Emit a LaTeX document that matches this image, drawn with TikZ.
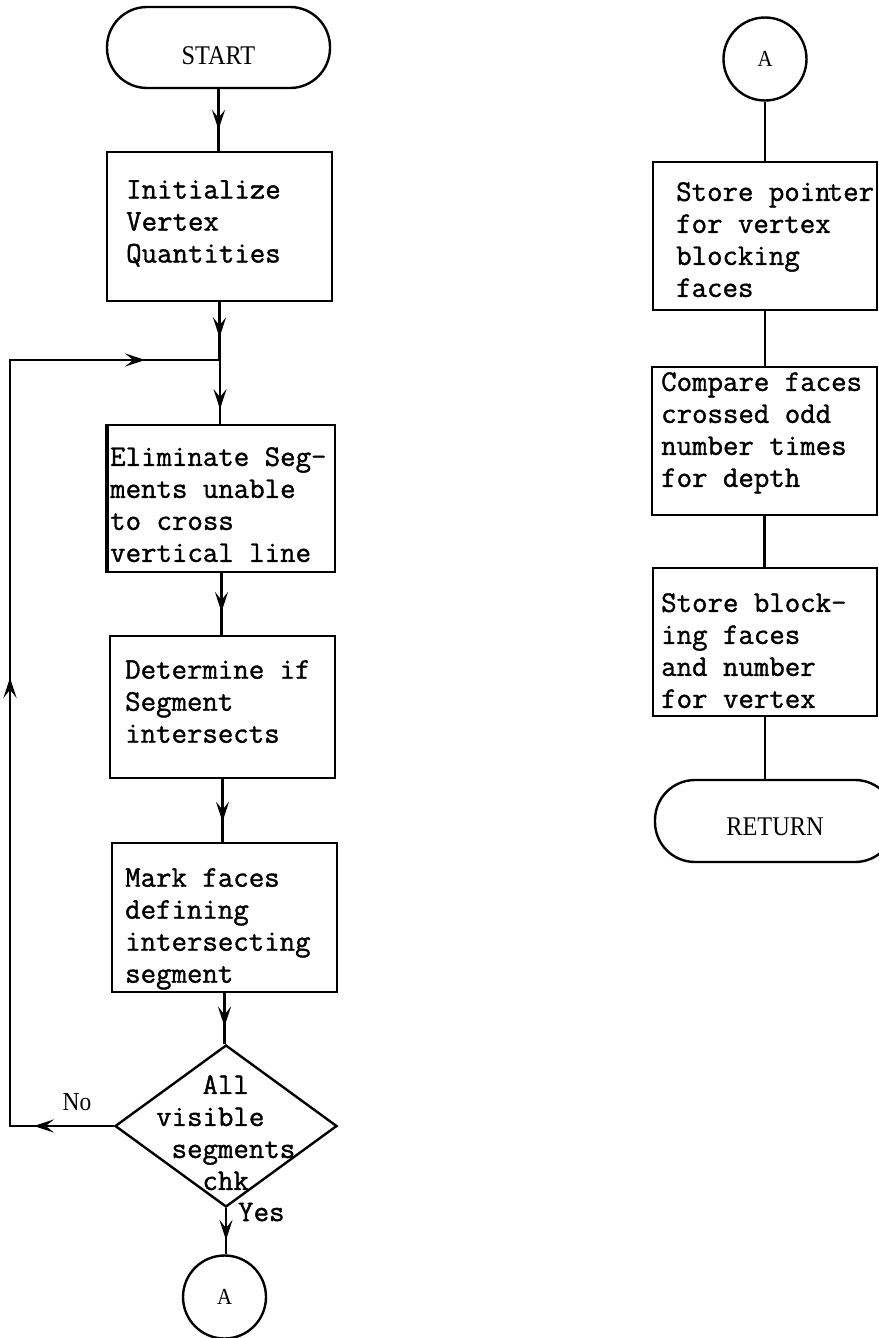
\documentclass[tikz,border=0pt]{standalone}
\usepackage{fontspec}
\newfontfamily\serifface{Liberation Serif}[FakeStretch=0.9]
\newfontfamily\typeface{Latin Modern Mono}[FakeBold=1.2]
\usetikzlibrary{arrows.meta,decorations.markings,shapes.geometric,calc}

\tikzset{
  >={Stealth[length=20pt,width=13pt,inset=8pt]},
  box/.style={draw, line width=2.4pt, rectangle, inner sep=0pt},
  term/.style={draw, line width=2.4pt, rectangle, rounded corners=40pt, inner sep=0pt,
    font=\serifface\fontsize{27}{30}\selectfont},
  conn/.style={draw, circle, line width=2.4pt, inner sep=0pt, minimum size=83pt,
    font=\serifface\fontsize{23}{28}\selectfont},
  decision/.style={draw, diamond, line width=2.4pt, inner sep=0pt},
  txt/.style={anchor=north west, inner sep=0pt, align=left,
    font=\fontsize{30}{32}\selectfont\typeface},
  flow/.style={line width=2.6pt},
  tip at/.style={decoration={markings, mark=at position #1 with {\arrow{>}}},
    postaction=decorate},
}

\begin{document}
\begin{tikzpicture}[x=1pt,y=-1pt]
\useasboundingbox (0,0) rectangle (878,1338);

% ---- main routine ----
\node[term, minimum width=223pt, minimum height=81pt, text height=35pt, text depth=0pt]
  (start) at (218.5,47.5) {START};
\node[box, minimum width=225pt, minimum height=149pt] (b1) at (219.5,226.5) {};
\node[txt] (t1) at (126,180) {Initialize\\Vertex\\Quantities};

\coordinate (j) at (220,360);
\coordinate (lc) at (10,360);

\node[box, minimum width=227pt, minimum height=147pt] (b2) at (221.5,498.5) {};
\draw[line width=4pt] (b2.north west) -- (b2.south west);
\node[txt] (t2) at (110,447) {Eliminate Seg-\\ments unable\\to cross\\vertical line};

\node[box, minimum width=225pt, minimum height=142pt] (b3) at (222.5,707) {};
\node[txt] (t3) at (125,660) {Determine if\\Segment\\intersects};

\node[box, minimum width=225pt, minimum height=149pt] (b4) at (224.5,917.5) {};
\node[txt] (t4) at (125,868) {Mark faces\\defining\\intersecting\\segment};

\node[decision, minimum width=222pt, minimum height=162pt] (dia) at (226,1126) {};
\node[txt] (td) at (156,1075)
  {\phantom{vis}All\\visible\\\phantom{v}segments\\\phantom{vis}chk};

\node[conn] (a1) at (224.5,1297) {A};

\node[font=\serifface\fontsize{26}{30}\selectfont, inner sep=0pt] (no) at (77,1102) {No};
\node[txt, anchor=west] (yes) at (238,1212) {Yes};

% connectors of the main routine
\draw[flow, tip at=0.66] (start.south) -- (start.south |- b1.north);
\draw[flow, tip at=0.61] (b1.south) -- (b1.south |- j);
\draw[flow, tip at=0.77] (j) -- (j |- b2.north);
\draw[flow, tip at=0.63] (b2.south) -- (b2.south |- b3.north);
\draw[flow, tip at=0.68] (b3.south) -- (b3.south |- b4.north);
\draw[flow, tip at=0.66] (b4.south) -- (b4.south |- dia.north);
\draw[flow, tip at=0.69] (dia.south) -- (dia.south |- a1.north);
\draw[flow, decoration={markings,
    mark=at position 80pt with {\arrow{>}},
    mark=at position 552pt with {\arrow{>}},
    mark=at position 1005pt with {\arrow{>}}}, postaction=decorate]
  (dia.west) -| (lc) -- (j);

% ---- continuation ----
\node[conn] (a2) at (765,59) {A};
\node[box, minimum width=224pt, minimum height=148pt] (r1) at (765,236) {};
\node[txt] (s1) at (676,182) {Store poin\kern-3pt ter\\for vertex\\blocking\\faces};
\node[box, minimum width=225pt, minimum height=148pt] (r2) at (764.5,441) {};
\node[txt] (s2) at (661,372) {Compare faces\\crossed odd\\number times\\for depth};
\node[box, minimum width=224pt, minimum height=148pt] (r3) at (765,642) {};
\node[txt] (s3) at (661,593) {Store block-\\ing faces\\and number\\for vertex};
\node[term, minimum width=240pt, minimum height=82pt, text height=28pt, text depth=0pt]
  (ret) at (775,821) {RETURN};

\draw[flow] (a2.south) -- (a2.south |- r1.north);
\draw[flow] (r1.south) -- (r1.south |- r2.north);
\draw[flow] (r2.south) -- (r2.south |- r3.north);
\draw[flow] (r3.south) -- (r3.south |- ret.north);
\end{tikzpicture}
\end{document}
